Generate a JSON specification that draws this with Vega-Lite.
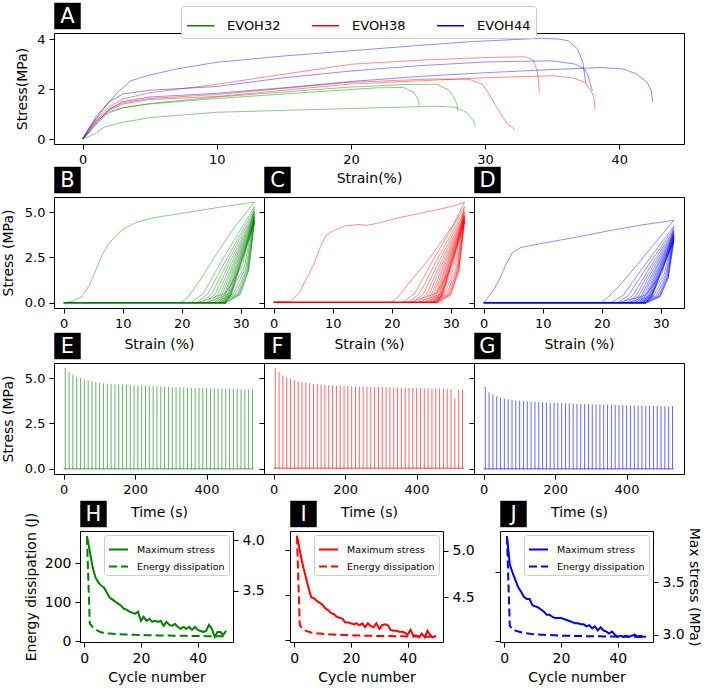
{
"$schema": "https://vega.github.io/schema/vega-lite/v6.json",
"padding": {"left": 0, "top": 2, "right": 0, "bottom": 0},
"config": {
 "font": "DejaVu Sans",
 "view": {"stroke": "black", "strokeWidth": 1},
 "axis": {"grid": false, "domain": false, "tickColor": "black", "tickSize": 5, "tickWidth": 1, "labelColor": "black", "titleColor": "black", "labelFontSize": 13, "titleFontSize": 14, "titleFontWeight": "normal", "labelPadding": 4, "titlePadding": 5, "labelFont": "DejaVu Sans", "titleFont": "DejaVu Sans"},
 "legend": {"labelFont": "DejaVu Sans", "labelColor": "black"}
},
"datasets": {
 "a": [
  {"g":"EVOH32","c":"g1","x":0,"y":0},{"g":"EVOH32","c":"g1","x":0.5,"y":0.3},{"g":"EVOH32","c":"g1","x":1,"y":0.7},{"g":"EVOH32","c":"g1","x":2,"y":1.1},{"g":"EVOH32","c":"g1","x":3,"y":1.25},{"g":"EVOH32","c":"g1","x":5,"y":1.4},{"g":"EVOH32","c":"g1","x":10,"y":1.62},{"g":"EVOH32","c":"g1","x":20,"y":1.98},{"g":"EVOH32","c":"g1","x":22,"y":2.05},{"g":"EVOH32","c":"g1","x":23.9,"y":2.06},{"g":"EVOH32","c":"g1","x":24.7,"y":1.86},{"g":"EVOH32","c":"g1","x":25,"y":1.6},{"g":"EVOH32","c":"g1","x":25.1,"y":1.33},
  {"g":"EVOH32","c":"g2","x":0,"y":0},{"g":"EVOH32","c":"g2","x":0.5,"y":0.25},{"g":"EVOH32","c":"g2","x":1,"y":0.6},{"g":"EVOH32","c":"g2","x":2,"y":1.05},{"g":"EVOH32","c":"g2","x":3,"y":1.25},{"g":"EVOH32","c":"g2","x":5,"y":1.42},{"g":"EVOH32","c":"g2","x":10,"y":1.68},{"g":"EVOH32","c":"g2","x":20,"y":2.08},{"g":"EVOH32","c":"g2","x":24,"y":2.18},{"g":"EVOH32","c":"g2","x":26.4,"y":2.19},{"g":"EVOH32","c":"g2","x":27.3,"y":1.95},{"g":"EVOH32","c":"g2","x":27.6,"y":1.73},{"g":"EVOH32","c":"g2","x":27.9,"y":1.4},{"g":"EVOH32","c":"g2","x":28,"y":1.1},
  {"g":"EVOH32","c":"g3","x":0,"y":0},{"g":"EVOH32","c":"g3","x":0.9,"y":0.2},{"g":"EVOH32","c":"g3","x":1.6,"y":0.47},{"g":"EVOH32","c":"g3","x":2.9,"y":0.66},{"g":"EVOH32","c":"g3","x":5.1,"y":0.86},{"g":"EVOH32","c":"g3","x":10,"y":1.07},{"g":"EVOH32","c":"g3","x":20,"y":1.22},{"g":"EVOH32","c":"g3","x":26.4,"y":1.31},{"g":"EVOH32","c":"g3","x":27.8,"y":1.27},{"g":"EVOH32","c":"g3","x":28.6,"y":1.07},{"g":"EVOH32","c":"g3","x":29.1,"y":0.75},{"g":"EVOH32","c":"g3","x":29.3,"y":0.5},
  {"g":"EVOH38","c":"r1","x":0,"y":0},{"g":"EVOH38","c":"r1","x":0.5,"y":0.4},{"g":"EVOH38","c":"r1","x":1,"y":0.8},{"g":"EVOH38","c":"r1","x":2,"y":1.3},{"g":"EVOH38","c":"r1","x":3,"y":1.6},{"g":"EVOH38","c":"r1","x":5,"y":1.85},{"g":"EVOH38","c":"r1","x":10,"y":2.19},{"g":"EVOH38","c":"r1","x":20,"y":2.99},{"g":"EVOH38","c":"r1","x":25,"y":3.15},{"g":"EVOH38","c":"r1","x":30,"y":3.26},{"g":"EVOH38","c":"r1","x":33,"y":3.29},{"g":"EVOH38","c":"r1","x":33.6,"y":3.15},{"g":"EVOH38","c":"r1","x":33.9,"y":2.7},{"g":"EVOH38","c":"r1","x":34,"y":2.2},{"g":"EVOH38","c":"r1","x":34.05,"y":1.86},
  {"g":"EVOH38","c":"r2","x":0,"y":0},{"g":"EVOH38","c":"r2","x":0.5,"y":0.35},{"g":"EVOH38","c":"r2","x":1,"y":0.7},{"g":"EVOH38","c":"r2","x":2,"y":1.15},{"g":"EVOH38","c":"r2","x":3,"y":1.4},{"g":"EVOH38","c":"r2","x":5,"y":1.58},{"g":"EVOH38","c":"r2","x":10,"y":1.7},{"g":"EVOH38","c":"r2","x":20,"y":2.2},{"g":"EVOH38","c":"r2","x":30,"y":2.45},{"g":"EVOH38","c":"r2","x":35,"y":2.53},{"g":"EVOH38","c":"r2","x":36.5,"y":2.45},{"g":"EVOH38","c":"r2","x":37.5,"y":2.26},{"g":"EVOH38","c":"r2","x":38.1,"y":1.73},{"g":"EVOH38","c":"r2","x":38.2,"y":1.2},
  {"g":"EVOH38","c":"r3","x":0,"y":0},{"g":"EVOH38","c":"r3","x":0.5,"y":0.4},{"g":"EVOH38","c":"r3","x":1,"y":0.75},{"g":"EVOH38","c":"r3","x":2,"y":1.2},{"g":"EVOH38","c":"r3","x":3,"y":1.45},{"g":"EVOH38","c":"r3","x":5,"y":1.62},{"g":"EVOH38","c":"r3","x":10,"y":1.78},{"g":"EVOH38","c":"r3","x":20,"y":2.27},{"g":"EVOH38","c":"r3","x":26,"y":2.4},{"g":"EVOH38","c":"r3","x":28.8,"y":2.39},{"g":"EVOH38","c":"r3","x":29.8,"y":2.19},{"g":"EVOH38","c":"r3","x":30.3,"y":1.8},{"g":"EVOH38","c":"r3","x":30.8,"y":1.33},{"g":"EVOH38","c":"r3","x":31.3,"y":0.9},{"g":"EVOH38","c":"r3","x":31.6,"y":0.66},{"g":"EVOH38","c":"r3","x":32.2,"y":0.38},
  {"g":"EVOH44","c":"b1","x":0,"y":0},{"g":"EVOH44","c":"b1","x":0.5,"y":0.45},{"g":"EVOH44","c":"b1","x":1.36,"y":1.07},{"g":"EVOH44","c":"b1","x":2,"y":1.5},{"g":"EVOH44","c":"b1","x":2.6,"y":1.86},{"g":"EVOH44","c":"b1","x":3.6,"y":2.33},{"g":"EVOH44","c":"b1","x":4.8,"y":2.53},{"g":"EVOH44","c":"b1","x":7,"y":2.8},{"g":"EVOH44","c":"b1","x":10,"y":3.07},{"g":"EVOH44","c":"b1","x":15,"y":3.32},{"g":"EVOH44","c":"b1","x":20,"y":3.53},{"g":"EVOH44","c":"b1","x":25,"y":3.74},{"g":"EVOH44","c":"b1","x":28.8,"y":3.89},{"g":"EVOH44","c":"b1","x":34.2,"y":4.03},{"g":"EVOH44","c":"b1","x":35.5,"y":4.0},{"g":"EVOH44","c":"b1","x":36.2,"y":3.93},{"g":"EVOH44","c":"b1","x":36.9,"y":3.6},{"g":"EVOH44","c":"b1","x":37.3,"y":3.06},{"g":"EVOH44","c":"b1","x":37.5,"y":2.26},
  {"g":"EVOH44","c":"b2","x":0,"y":0},{"g":"EVOH44","c":"b2","x":0.5,"y":0.45},{"g":"EVOH44","c":"b2","x":1,"y":0.9},{"g":"EVOH44","c":"b2","x":2,"y":1.5},{"g":"EVOH44","c":"b2","x":3,"y":1.8},{"g":"EVOH44","c":"b2","x":5,"y":1.95},{"g":"EVOH44","c":"b2","x":10,"y":2.1},{"g":"EVOH44","c":"b2","x":15,"y":2.45},{"g":"EVOH44","c":"b2","x":20,"y":2.72},{"g":"EVOH44","c":"b2","x":25,"y":2.93},{"g":"EVOH44","c":"b2","x":30,"y":3.08},{"g":"EVOH44","c":"b2","x":35,"y":3.13},{"g":"EVOH44","c":"b2","x":36.7,"y":3.0},{"g":"EVOH44","c":"b2","x":37.4,"y":2.8},{"g":"EVOH44","c":"b2","x":37.7,"y":2.5},{"g":"EVOH44","c":"b2","x":38,"y":1.93},
  {"g":"EVOH44","c":"b3","x":0,"y":0},{"g":"EVOH44","c":"b3","x":0.5,"y":0.3},{"g":"EVOH44","c":"b3","x":1,"y":0.6},{"g":"EVOH44","c":"b3","x":2,"y":1.2},{"g":"EVOH44","c":"b3","x":3,"y":1.5},{"g":"EVOH44","c":"b3","x":5,"y":1.68},{"g":"EVOH44","c":"b3","x":10,"y":1.83},{"g":"EVOH44","c":"b3","x":15,"y":2.05},{"g":"EVOH44","c":"b3","x":20,"y":2.3},{"g":"EVOH44","c":"b3","x":25,"y":2.5},{"g":"EVOH44","c":"b3","x":30,"y":2.65},{"g":"EVOH44","c":"b3","x":35,"y":2.78},{"g":"EVOH44","c":"b3","x":38.7,"y":2.86},{"g":"EVOH44","c":"b3","x":40.3,"y":2.8},{"g":"EVOH44","c":"b3","x":41.3,"y":2.6},{"g":"EVOH44","c":"b3","x":42.1,"y":2.26},{"g":"EVOH44","c":"b3","x":42.4,"y":1.9},{"g":"EVOH44","c":"b3","x":42.5,"y":1.49}
 ],
 "lb": [
  {"c":0,"x":0,"y":0},{"c":0,"x":1.5,"y":0.1},{"c":0,"x":2.96,"y":0.31},{"c":0,"x":4.36,"y":0.95},{"c":0,"x":5.75,"y":2.04},{"c":0,"x":6.6,"y":2.68},{"c":0,"x":7.4,"y":3.14},{"c":0,"x":8.3,"y":3.5},{"c":0,"x":9.1,"y":3.78},{"c":0,"x":10,"y":4.05},{"c":0,"x":11.3,"y":4.27},{"c":0,"x":12.5,"y":4.45},{"c":0,"x":15.3,"y":4.69},{"c":0,"x":20,"y":4.93},{"c":0,"x":25.9,"y":5.24},{"c":0,"x":32.3,"y":5.55},
  {"c":100,"x":19.8,"y":0},{"c":100,"x":21,"y":0.3},{"c":100,"x":23,"y":1.2},{"c":100,"x":26,"y":2.75},{"c":100,"x":29,"y":4.2},{"c":100,"x":32.3,"y":5.55},
  {"c":1,"x":21.5,"y":0},{"c":1,"x":23.66,"y":0.53},{"c":1,"x":26.9,"y":2.39},{"c":1,"x":32.3,"y":5.3},
  {"c":2,"x":22.5,"y":0},{"c":2,"x":24.46,"y":0.52},{"c":2,"x":27.4,"y":2.32},{"c":2,"x":32.3,"y":5.15},
  {"c":3,"x":23.3,"y":0},{"c":3,"x":25.1,"y":0.51},{"c":3,"x":27.8,"y":2.27},{"c":3,"x":32.3,"y":5.05},
  {"c":4,"x":24.0,"y":0},{"c":4,"x":25.66,"y":0.5},{"c":4,"x":28.15,"y":2.24},{"c":4,"x":32.3,"y":4.97},
  {"c":5,"x":24.6,"y":0},{"c":5,"x":26.14,"y":0.49},{"c":5,"x":28.45,"y":2.21},{"c":5,"x":32.3,"y":4.9},
  {"c":6,"x":25.1,"y":0},{"c":6,"x":26.54,"y":0.48},{"c":6,"x":28.7,"y":2.18},{"c":6,"x":32.3,"y":4.84},
  {"c":7,"x":25.5,"y":0},{"c":7,"x":26.86,"y":0.48},{"c":7,"x":28.9,"y":2.15},{"c":7,"x":32.3,"y":4.78},
  {"c":8,"x":25.9,"y":0},{"c":8,"x":27.18,"y":0.47},{"c":8,"x":29.1,"y":2.13},{"c":8,"x":32.3,"y":4.73},
  {"c":9,"x":26.2,"y":0},{"c":9,"x":27.42,"y":0.47},{"c":9,"x":29.25,"y":2.11},{"c":9,"x":32.3,"y":4.68},
  {"c":10,"x":26.5,"y":0},{"c":10,"x":27.66,"y":0.46},{"c":10,"x":29.4,"y":2.08},{"c":10,"x":32.3,"y":4.63},
  {"c":11,"x":26.7,"y":0},{"c":11,"x":27.82,"y":0.46},{"c":11,"x":29.5,"y":2.06},{"c":11,"x":32.3,"y":4.58},
  {"c":12,"x":26.9,"y":0},{"c":12,"x":27.98,"y":0.45},{"c":12,"x":29.6,"y":2.04},{"c":12,"x":32.3,"y":4.54},
  {"c":13,"x":27.1,"y":0},{"c":13,"x":28.14,"y":0.45},{"c":13,"x":29.7,"y":2.03},{"c":13,"x":32.3,"y":4.5},
  {"c":14,"x":27.2,"y":0},{"c":14,"x":28.22,"y":0.45},{"c":14,"x":29.75,"y":2.01},{"c":14,"x":32.3,"y":4.46},
  {"c":15,"x":27.3,"y":0},{"c":15,"x":28.3,"y":0.44},{"c":15,"x":29.8,"y":1.99},{"c":15,"x":32.3,"y":4.42},
  {"c":16,"x":27.4,"y":0},{"c":16,"x":28.38,"y":0.44},{"c":16,"x":29.85,"y":1.97},{"c":16,"x":32.3,"y":4.38},
  {"c":101,"x":22.5,"y":0},{"c":101,"x":27.4,"y":0.53},{"c":101,"x":30.34,"y":2.12},{"c":101,"x":32.3,"y":5.3},
  {"c":103,"x":24.0,"y":0},{"c":103,"x":28.15,"y":0.51},{"c":103,"x":30.64,"y":2.02},{"c":103,"x":32.3,"y":5.05},
  {"c":105,"x":25.1,"y":0},{"c":105,"x":28.7,"y":0.49},{"c":105,"x":30.86,"y":1.96},{"c":105,"x":32.3,"y":4.9},
  {"c":107,"x":25.9,"y":0},{"c":107,"x":29.1,"y":0.48},{"c":107,"x":31.02,"y":1.91},{"c":107,"x":32.3,"y":4.78},
  {"c":109,"x":26.5,"y":0},{"c":109,"x":29.4,"y":0.47},{"c":109,"x":31.14,"y":1.87},{"c":109,"x":32.3,"y":4.68},
  {"c":111,"x":26.9,"y":0},{"c":111,"x":29.6,"y":0.46},{"c":111,"x":31.22,"y":1.83},{"c":111,"x":32.3,"y":4.58},
  {"c":113,"x":27.2,"y":0},{"c":113,"x":29.75,"y":0.45},{"c":113,"x":31.28,"y":1.8},{"c":113,"x":32.3,"y":4.5},
  {"c":115,"x":27.4,"y":0},{"c":115,"x":29.85,"y":0.44},{"c":115,"x":31.32,"y":1.77},{"c":115,"x":32.3,"y":4.42}
 ],
 "lc": [
  {"c":0,"x":0,"y":0.07},{"c":0,"x":2.8,"y":0.07},{"c":0,"x":4.4,"y":0.58},{"c":0,"x":5.5,"y":1.3},{"c":0,"x":6.7,"y":2.04},{"c":0,"x":8.2,"y":3.3},{"c":0,"x":9,"y":3.75},{"c":0,"x":10.1,"y":3.96},{"c":0,"x":12,"y":4.23},{"c":0,"x":14.3,"y":4.32},{"c":0,"x":15.8,"y":4.27},{"c":0,"x":18.1,"y":4.42},{"c":0,"x":21.2,"y":4.69},{"c":0,"x":26.5,"y":5.05},{"c":0,"x":30.4,"y":5.33},{"c":0,"x":32.3,"y":5.55},
  {"c":100,"x":19.7,"y":0},{"c":100,"x":21,"y":0.3},{"c":100,"x":22.7,"y":1.0},{"c":100,"x":26.5,"y":2.5},{"c":100,"x":30.4,"y":4.3},{"c":100,"x":32.3,"y":5.55},
  {"c":1,"x":21.8,"y":0},{"c":1,"x":23.9,"y":0.53},{"c":1,"x":27.05,"y":2.39},{"c":1,"x":32.3,"y":5.3},
  {"c":2,"x":22.8,"y":0},{"c":2,"x":24.7,"y":0.51},{"c":2,"x":27.55,"y":2.31},{"c":2,"x":32.3,"y":5.13},
  {"c":3,"x":23.6,"y":0},{"c":3,"x":25.34,"y":0.5},{"c":3,"x":27.95,"y":2.26},{"c":3,"x":32.3,"y":5.02},
  {"c":4,"x":24.3,"y":0},{"c":4,"x":25.9,"y":0.49},{"c":4,"x":28.3,"y":2.22},{"c":4,"x":32.3,"y":4.93},
  {"c":5,"x":24.9,"y":0},{"c":5,"x":26.38,"y":0.49},{"c":5,"x":28.6,"y":2.19},{"c":5,"x":32.3,"y":4.86},
  {"c":6,"x":25.4,"y":0},{"c":6,"x":26.78,"y":0.48},{"c":6,"x":28.85,"y":2.16},{"c":6,"x":32.3,"y":4.8},
  {"c":7,"x":25.8,"y":0},{"c":7,"x":27.1,"y":0.48},{"c":7,"x":29.05,"y":2.14},{"c":7,"x":32.3,"y":4.76},
  {"c":8,"x":26.2,"y":0},{"c":8,"x":27.42,"y":0.47},{"c":8,"x":29.25,"y":2.12},{"c":8,"x":32.3,"y":4.72},
  {"c":9,"x":26.5,"y":0},{"c":9,"x":27.66,"y":0.47},{"c":9,"x":29.4,"y":2.11},{"c":9,"x":32.3,"y":4.68},
  {"c":10,"x":26.8,"y":0},{"c":10,"x":27.9,"y":0.46},{"c":10,"x":29.55,"y":2.09},{"c":10,"x":32.3,"y":4.64},
  {"c":11,"x":27.0,"y":0},{"c":11,"x":28.06,"y":0.46},{"c":11,"x":29.65,"y":2.07},{"c":11,"x":32.3,"y":4.6},
  {"c":12,"x":27.2,"y":0},{"c":12,"x":28.22,"y":0.46},{"c":12,"x":29.75,"y":2.05},{"c":12,"x":32.3,"y":4.56},
  {"c":13,"x":27.4,"y":0},{"c":13,"x":28.38,"y":0.45},{"c":13,"x":29.85,"y":2.03},{"c":13,"x":32.3,"y":4.52},
  {"c":14,"x":27.5,"y":0},{"c":14,"x":28.46,"y":0.45},{"c":14,"x":29.9,"y":2.02},{"c":14,"x":32.3,"y":4.48},
  {"c":15,"x":27.6,"y":0},{"c":15,"x":28.54,"y":0.44},{"c":15,"x":29.95,"y":2.0},{"c":15,"x":32.3,"y":4.44},
  {"c":16,"x":27.7,"y":0},{"c":16,"x":28.62,"y":0.44},{"c":16,"x":30.0,"y":1.98},{"c":16,"x":32.3,"y":4.4},
  {"c":101,"x":22.8,"y":0},{"c":101,"x":27.55,"y":0.53},{"c":101,"x":30.4,"y":2.12},{"c":101,"x":32.3,"y":5.3},
  {"c":103,"x":24.3,"y":0},{"c":103,"x":28.3,"y":0.5},{"c":103,"x":30.7,"y":2.01},{"c":103,"x":32.3,"y":5.02},
  {"c":105,"x":25.4,"y":0},{"c":105,"x":28.85,"y":0.49},{"c":105,"x":30.92,"y":1.94},{"c":105,"x":32.3,"y":4.86},
  {"c":107,"x":26.2,"y":0},{"c":107,"x":29.25,"y":0.48},{"c":107,"x":31.08,"y":1.9},{"c":107,"x":32.3,"y":4.76},
  {"c":109,"x":26.8,"y":0},{"c":109,"x":29.55,"y":0.47},{"c":109,"x":31.2,"y":1.87},{"c":109,"x":32.3,"y":4.68},
  {"c":111,"x":27.2,"y":0},{"c":111,"x":29.75,"y":0.46},{"c":111,"x":31.28,"y":1.84},{"c":111,"x":32.3,"y":4.6},
  {"c":113,"x":27.5,"y":0},{"c":113,"x":29.9,"y":0.45},{"c":113,"x":31.34,"y":1.81},{"c":113,"x":32.3,"y":4.52},
  {"c":115,"x":27.7,"y":0},{"c":115,"x":30.0,"y":0.44},{"c":115,"x":31.38,"y":1.78},{"c":115,"x":32.3,"y":4.44}
 ],
 "ld": [
  {"c":0,"x":0,"y":0},{"c":0,"x":0.96,"y":0.4},{"c":0,"x":1.8,"y":0.77},{"c":0,"x":2.7,"y":1.31},{"c":0,"x":3.8,"y":2.13},{"c":0,"x":4.9,"y":2.77},{"c":0,"x":6.3,"y":3.05},{"c":0,"x":9.7,"y":3.27},{"c":0,"x":15.4,"y":3.6},{"c":0,"x":21,"y":3.96},{"c":0,"x":26.7,"y":4.29},{"c":0,"x":32.2,"y":4.54},
  {"c":100,"x":19.9,"y":0},{"c":100,"x":21,"y":0.3},{"c":100,"x":23,"y":0.95},{"c":100,"x":26,"y":2.1},{"c":100,"x":29,"y":3.3},{"c":100,"x":32.2,"y":4.54},
  {"c":1,"x":21.5,"y":0},{"c":1,"x":23.64,"y":0.42},{"c":1,"x":26.85,"y":1.9},{"c":1,"x":32.2,"y":4.22},
  {"c":2,"x":22.6,"y":0},{"c":2,"x":24.52,"y":0.41},{"c":2,"x":27.4,"y":1.85},{"c":2,"x":32.2,"y":4.1},
  {"c":3,"x":23.5,"y":0},{"c":3,"x":25.24,"y":0.4},{"c":3,"x":27.85,"y":1.8},{"c":3,"x":32.2,"y":4.0},
  {"c":4,"x":24.2,"y":0},{"c":4,"x":25.8,"y":0.39},{"c":4,"x":28.2,"y":1.77},{"c":4,"x":32.2,"y":3.93},
  {"c":5,"x":24.8,"y":0},{"c":5,"x":26.28,"y":0.39},{"c":5,"x":28.5,"y":1.74},{"c":5,"x":32.2,"y":3.86},
  {"c":6,"x":25.3,"y":0},{"c":6,"x":26.68,"y":0.38},{"c":6,"x":28.75,"y":1.71},{"c":6,"x":32.2,"y":3.8},
  {"c":7,"x":25.7,"y":0},{"c":7,"x":27.0,"y":0.38},{"c":7,"x":28.95,"y":1.69},{"c":7,"x":32.2,"y":3.76},
  {"c":8,"x":26.1,"y":0},{"c":8,"x":27.32,"y":0.37},{"c":8,"x":29.15,"y":1.67},{"c":8,"x":32.2,"y":3.72},
  {"c":9,"x":26.4,"y":0},{"c":9,"x":27.56,"y":0.37},{"c":9,"x":29.3,"y":1.66},{"c":9,"x":32.2,"y":3.68},
  {"c":10,"x":26.7,"y":0},{"c":10,"x":27.8,"y":0.36},{"c":10,"x":29.45,"y":1.64},{"c":10,"x":32.2,"y":3.64},
  {"c":11,"x":26.9,"y":0},{"c":11,"x":27.96,"y":0.36},{"c":11,"x":29.55,"y":1.62},{"c":11,"x":32.2,"y":3.6},
  {"c":12,"x":27.1,"y":0},{"c":12,"x":28.12,"y":0.36},{"c":12,"x":29.65,"y":1.6},{"c":12,"x":32.2,"y":3.56},
  {"c":13,"x":27.3,"y":0},{"c":13,"x":28.28,"y":0.35},{"c":13,"x":29.75,"y":1.58},{"c":13,"x":32.2,"y":3.52},
  {"c":14,"x":27.4,"y":0},{"c":14,"x":28.36,"y":0.35},{"c":14,"x":29.8,"y":1.57},{"c":14,"x":32.2,"y":3.48},
  {"c":15,"x":27.5,"y":0},{"c":15,"x":28.44,"y":0.35},{"c":15,"x":29.85,"y":1.55},{"c":15,"x":32.2,"y":3.45},
  {"c":16,"x":27.6,"y":0},{"c":16,"x":28.52,"y":0.34},{"c":16,"x":29.9,"y":1.54},{"c":16,"x":32.2,"y":3.42},
  {"c":101,"x":22.6,"y":0},{"c":101,"x":27.4,"y":0.42},{"c":101,"x":30.28,"y":1.69},{"c":101,"x":32.2,"y":4.22},
  {"c":103,"x":24.2,"y":0},{"c":103,"x":28.2,"y":0.4},{"c":103,"x":30.6,"y":1.6},{"c":103,"x":32.2,"y":4.0},
  {"c":105,"x":25.3,"y":0},{"c":105,"x":28.75,"y":0.39},{"c":105,"x":30.82,"y":1.54},{"c":105,"x":32.2,"y":3.86},
  {"c":107,"x":26.1,"y":0},{"c":107,"x":29.15,"y":0.38},{"c":107,"x":30.98,"y":1.5},{"c":107,"x":32.2,"y":3.76},
  {"c":109,"x":26.7,"y":0},{"c":109,"x":29.45,"y":0.37},{"c":109,"x":31.1,"y":1.47},{"c":109,"x":32.2,"y":3.68},
  {"c":111,"x":27.1,"y":0},{"c":111,"x":29.65,"y":0.36},{"c":111,"x":31.18,"y":1.44},{"c":111,"x":32.2,"y":3.6},
  {"c":113,"x":27.4,"y":0},{"c":113,"x":29.8,"y":0.35},{"c":113,"x":31.24,"y":1.41},{"c":113,"x":32.2,"y":3.52},
  {"c":115,"x":27.6,"y":0},{"c":115,"x":29.9,"y":0.35},{"c":115,"x":31.28,"y":1.38},{"c":115,"x":32.2,"y":3.45}
 ],
 "te": [
  {"t":4.5,"s":5.57},{"t":15.2,"s":5.33},{"t":25.9,"s":5.18},{"t":36.6,"s":5.07},{"t":47.3,"s":5.0},{"t":58,"s":4.93},{"t":68.7,"s":4.87},{"t":79.4,"s":4.83},{"t":90.1,"s":4.78},{"t":100.8,"s":4.74},
  {"t":111.5,"s":4.71},{"t":122.2,"s":4.69},{"t":132.9,"s":4.67},{"t":143.6,"s":4.66},{"t":154.3,"s":4.65},{"t":165,"s":4.64},{"t":175.7,"s":4.62},{"t":186.4,"s":4.61},{"t":197.1,"s":4.6},{"t":207.8,"s":4.59},
  {"t":218.5,"s":4.58},{"t":229.2,"s":4.57},{"t":239.9,"s":4.56},{"t":250.6,"s":4.55},{"t":261.3,"s":4.54},{"t":272,"s":4.53},{"t":282.7,"s":4.52},{"t":293.4,"s":4.51},{"t":304.1,"s":4.5},{"t":314.8,"s":4.5},
  {"t":325.5,"s":4.49},{"t":336.2,"s":4.48},{"t":346.9,"s":4.48},{"t":357.6,"s":4.47},{"t":368.3,"s":4.46},{"t":379,"s":4.46},{"t":389.7,"s":4.45},{"t":400.4,"s":4.45},{"t":411.1,"s":4.44},{"t":421.8,"s":4.43},
  {"t":432.5,"s":4.43},{"t":443.2,"s":4.42},{"t":453.9,"s":4.41},{"t":464.6,"s":4.41},{"t":475.3,"s":4.4},{"t":486,"s":4.39},{"t":496.7,"s":4.38},{"t":507.4,"s":4.38},{"t":518.1,"s":4.37},{"t":528.8,"s":4.36}
 ],
 "tf": [
  {"t":4.5,"s":5.57},{"t":15.2,"s":5.32},{"t":25.9,"s":5.15},{"t":36.6,"s":5.04},{"t":47.3,"s":4.95},{"t":58,"s":4.88},{"t":68.7,"s":4.82},{"t":79.4,"s":4.78},{"t":90.1,"s":4.74},{"t":100.8,"s":4.71},
  {"t":111.5,"s":4.68},{"t":122.2,"s":4.66},{"t":132.9,"s":4.64},{"t":143.6,"s":4.62},{"t":154.3,"s":4.61},{"t":165,"s":4.6},{"t":175.7,"s":4.59},{"t":186.4,"s":4.58},{"t":197.1,"s":4.57},{"t":207.8,"s":4.56},
  {"t":218.5,"s":4.55},{"t":229.2,"s":4.54},{"t":239.9,"s":4.53},{"t":250.6,"s":4.53},{"t":261.3,"s":4.52},{"t":272,"s":4.51},{"t":282.7,"s":4.51},{"t":293.4,"s":4.5},{"t":304.1,"s":4.5},{"t":314.8,"s":4.49},
  {"t":325.5,"s":4.49},{"t":336.2,"s":4.48},{"t":346.9,"s":4.48},{"t":357.6,"s":4.47},{"t":368.3,"s":4.47},{"t":379,"s":4.46},{"t":389.7,"s":4.46},{"t":400.4,"s":4.45},{"t":411.1,"s":4.45},{"t":421.8,"s":4.44},
  {"t":432.5,"s":4.44},{"t":443.2,"s":4.43},{"t":453.9,"s":4.43},{"t":464.6,"s":4.42},{"t":475.3,"s":4.42},{"t":486,"s":4.41},{"t":496.7,"s":4.4},{"t":507.4,"s":3.88},{"t":518.1,"s":4.36},{"t":528.8,"s":4.37}
 ],
 "tg": [
  {"t":4.5,"s":4.52},{"t":15.2,"s":4.22},{"t":25.9,"s":4.1},{"t":36.6,"s":4.0},{"t":47.3,"s":3.93},{"t":58,"s":3.87},{"t":68.7,"s":3.83},{"t":79.4,"s":3.8},{"t":90.1,"s":3.77},{"t":100.8,"s":3.75},
  {"t":111.5,"s":3.73},{"t":122.2,"s":3.71},{"t":132.9,"s":3.7},{"t":143.6,"s":3.69},{"t":154.3,"s":3.68},{"t":165,"s":3.67},{"t":175.7,"s":3.66},{"t":186.4,"s":3.65},{"t":197.1,"s":3.64},{"t":207.8,"s":3.63},
  {"t":218.5,"s":3.62},{"t":229.2,"s":3.61},{"t":239.9,"s":3.6},{"t":250.6,"s":3.59},{"t":261.3,"s":3.58},{"t":272,"s":3.57},{"t":282.7,"s":3.57},{"t":293.4,"s":3.56},{"t":304.1,"s":3.55},{"t":314.8,"s":3.55},
  {"t":325.5,"s":3.54},{"t":336.2,"s":3.53},{"t":346.9,"s":3.53},{"t":357.6,"s":3.52},{"t":368.3,"s":3.52},{"t":379,"s":3.51},{"t":389.7,"s":3.51},{"t":400.4,"s":3.5},{"t":411.1,"s":3.5},{"t":421.8,"s":3.49},
  {"t":432.5,"s":3.48},{"t":443.2,"s":3.48},{"t":453.9,"s":3.47},{"t":464.6,"s":3.47},{"t":475.3,"s":3.46},{"t":486,"s":3.46},{"t":496.7,"s":3.45},{"t":507.4,"s":3.45},{"t":518.1,"s":3.44},{"t":528.8,"s":3.44}
 ],
 "ch": [
  {"n":1,"m":4.04,"e":267},{"n":2,"m":3.89,"e":45},{"n":3,"m":3.73,"e":36},{"n":4,"m":3.63,"e":30},{"n":5,"m":3.58,"e":26},{"n":6,"m":3.55,"e":23},{"n":7,"m":3.53,"e":21},{"n":8,"m":3.48,"e":20},{"n":9,"m":3.43,"e":19.5},{"n":10,"m":3.41,"e":19},
  {"n":11,"m":3.39,"e":18.5},{"n":12,"m":3.37,"e":18},{"n":13,"m":3.35,"e":17.7},{"n":14,"m":3.32,"e":17.4},{"n":15,"m":3.31,"e":17.1},{"n":16,"m":3.29,"e":16.8},{"n":17,"m":3.28,"e":16.5},{"n":18,"m":3.27,"e":16.3},{"n":19,"m":3.29,"e":16.1},{"n":20,"m":3.2,"e":15.9},
  {"n":21,"m":3.24,"e":15.7},{"n":22,"m":3.2,"e":15.5},{"n":23,"m":3.22,"e":15.3},{"n":24,"m":3.19,"e":15.2},{"n":25,"m":3.2,"e":15.0},{"n":26,"m":3.19,"e":14.9},{"n":27,"m":3.2,"e":14.8},{"n":28,"m":3.15,"e":14.6},{"n":29,"m":3.19,"e":14.5},{"n":30,"m":3.16,"e":14.4},
  {"n":31,"m":3.15,"e":14.3},{"n":32,"m":3.17,"e":14.2},{"n":33,"m":3.14,"e":14.0},{"n":34,"m":3.12,"e":13.9},{"n":35,"m":3.14,"e":13.8},{"n":36,"m":3.12,"e":13.7},{"n":37,"m":3.14,"e":13.6},{"n":38,"m":3.11,"e":13.5},{"n":39,"m":3.14,"e":13.4},{"n":40,"m":3.11,"e":13.3},
  {"n":41,"m":3.1,"e":13.2},{"n":42,"m":3.09,"e":13.1},{"n":43,"m":3.1,"e":13.0},{"n":44,"m":3.16,"e":12.9},{"n":45,"m":3.12,"e":12.8},{"n":46,"m":3.04,"e":12.7},{"n":47,"m":3.09,"e":12.6},{"n":48,"m":3.09,"e":12.5},{"n":49,"m":3.06,"e":12.4},{"n":50,"m":3.1,"e":12.3}
 ],
 "ci": [
  {"n":1,"m":5.16,"e":229},{"n":2,"m":5.0,"e":33},{"n":3,"m":4.85,"e":25},{"n":4,"m":4.73,"e":21},{"n":5,"m":4.61,"e":19},{"n":6,"m":4.5,"e":17},{"n":7,"m":4.49,"e":16},{"n":8,"m":4.46,"e":15},{"n":9,"m":4.44,"e":14.5},{"n":10,"m":4.42,"e":14},
  {"n":11,"m":4.38,"e":13.6},{"n":12,"m":4.36,"e":13.2},{"n":13,"m":4.33,"e":12.8},{"n":14,"m":4.32,"e":12.5},{"n":15,"m":4.29,"e":12.2},{"n":16,"m":4.28,"e":11.9},{"n":17,"m":4.27,"e":11.6},{"n":18,"m":4.23,"e":11.3},{"n":19,"m":4.23,"e":11.0},{"n":20,"m":4.22,"e":10.8},
  {"n":21,"m":4.21,"e":10.6},{"n":22,"m":4.22,"e":10.4},{"n":23,"m":4.2,"e":10.2},{"n":24,"m":4.22,"e":10.0},{"n":25,"m":4.18,"e":9.9},{"n":26,"m":4.22,"e":9.8},{"n":27,"m":4.19,"e":9.7},{"n":28,"m":4.18,"e":9.6},{"n":29,"m":4.22,"e":9.5},{"n":30,"m":4.16,"e":9.4},
  {"n":31,"m":4.2,"e":9.3},{"n":32,"m":4.21,"e":9.2},{"n":33,"m":4.2,"e":9.1},{"n":34,"m":4.15,"e":9.0},{"n":35,"m":4.14,"e":8.9},{"n":36,"m":4.14,"e":8.8},{"n":37,"m":4.13,"e":8.7},{"n":38,"m":4.13,"e":8.6},{"n":39,"m":4.12,"e":8.5},{"n":40,"m":4.1,"e":8.4},
  {"n":41,"m":4.15,"e":8.3},{"n":42,"m":4.09,"e":8.2},{"n":43,"m":4.09,"e":8.1},{"n":44,"m":4.07,"e":8.0},{"n":45,"m":4.11,"e":7.9},{"n":46,"m":4.07,"e":7.8},{"n":47,"m":4.14,"e":7.7},{"n":48,"m":4.09,"e":7.6},{"n":49,"m":4.07,"e":7.5},{"n":50,"m":4.09,"e":7.4}
 ],
 "cj": [
  {"n":1,"m":3.94,"e":152},{"n":2,"m":3.67,"e":22},{"n":3,"m":3.59,"e":17},{"n":4,"m":3.52,"e":15},{"n":5,"m":3.45,"e":13.7},{"n":6,"m":3.41,"e":12.6},{"n":7,"m":3.36,"e":11.8},{"n":8,"m":3.34,"e":11.2},{"n":9,"m":3.34,"e":10.6},{"n":10,"m":3.28,"e":10.1},
  {"n":11,"m":3.27,"e":9.8},{"n":12,"m":3.26,"e":9.5},{"n":13,"m":3.24,"e":9.2},{"n":14,"m":3.22,"e":9.0},{"n":15,"m":3.19,"e":8.8},{"n":16,"m":3.19,"e":8.6},{"n":17,"m":3.17,"e":8.4},{"n":18,"m":3.16,"e":8.2},{"n":19,"m":3.16,"e":8.0},{"n":20,"m":3.16,"e":7.8},
  {"n":21,"m":3.15,"e":7.7},{"n":22,"m":3.14,"e":7.6},{"n":23,"m":3.13,"e":7.5},{"n":24,"m":3.12,"e":7.4},{"n":25,"m":3.11,"e":7.3},{"n":26,"m":3.11,"e":7.3},{"n":27,"m":3.1,"e":7.2},{"n":28,"m":3.1,"e":7.1},{"n":29,"m":3.08,"e":7.0},{"n":30,"m":3.09,"e":7.0},
  {"n":31,"m":3.06,"e":6.9},{"n":32,"m":3.08,"e":6.8},{"n":33,"m":3.04,"e":6.8},{"n":34,"m":3.07,"e":6.7},{"n":35,"m":3.04,"e":6.6},{"n":36,"m":3.03,"e":6.6},{"n":37,"m":3.01,"e":6.5},{"n":38,"m":3.03,"e":6.4},{"n":39,"m":3.0,"e":6.4},{"n":40,"m":2.98,"e":6.3},
  {"n":41,"m":2.99,"e":6.3},{"n":42,"m":2.98,"e":6.2},{"n":43,"m":2.99,"e":6.2},{"n":44,"m":2.98,"e":6.1},{"n":45,"m":2.99,"e":6.1},{"n":46,"m":3.0,"e":6.0},{"n":47,"m":2.98,"e":6.0},{"n":48,"m":2.99,"e":5.9},{"n":49,"m":2.98,"e":5.9},{"n":50,"m":2.98,"e":5.9}
 ]
},
"spacing": -20,
"resolve": {"scale": {"x": "independent", "y": "independent", "color": "independent", "strokeDash": "independent"}, "legend": {"color": "independent", "strokeDash": "independent"}},
"vconcat": [
 {
  "width": 630, "height": 111,
  "layer": [
   {"data": {"name": "a"}, "mark": {"type": "line", "strokeWidth": 1, "opacity": 0.45},
    "encoding": {
     "x": {"field": "x", "type": "quantitative", "scale": {"domain": [-2.135, 44.835], "nice": false}, "axis": {"values": [0,10,20,30,40], "title": "Strain(%)", "titlePadding": 5}},
     "y": {"field": "y", "type": "quantitative", "scale": {"domain": [-0.2, 4.24], "nice": false}, "axis": {"values": [0,2,4], "title": "Stress(MPa)", "titlePadding": 7}},
     "color": {"field": "g", "type": "nominal", "scale": {"domain": ["EVOH32","EVOH38","EVOH44"], "range": ["#008000","#ff0000","#0000ff"]},
       "legend": {"orient": "none", "legendX": 127, "legendY": -27, "direction": "horizontal", "title": null, "symbolType": "stroke", "symbolSize": 729, "symbolStrokeWidth": 1.5, "symbolOpacity": 1, "labelFontSize": 13, "labelOffset": 12, "columnPadding": 28, "padding": 5, "strokeColor": "#cccccc", "cornerRadius": 3, "fillColor": "white"}},
     "detail": {"field": "c"}
    }},
   {"data": {"values": [{"l": "A"}]},
    "encoding": {"x": {"datum": -2.135}, "y": {"datum": 4.24}},
    "layer": [
     {"mark": {"type": "point", "shape": "square", "filled": true, "color": "black", "opacity": 1, "size": 700, "xOffset": 13.5, "yOffset": -17}},
     {"mark": {"type": "text", "color": "white", "fontSize": 21, "font": "DejaVu Sans", "xOffset": 13.5, "yOffset": -16, "align": "center", "baseline": "middle"}, "encoding": {"text": {"field": "l"}}}
    ]}
  ]
 },
 {
  "hconcat": [
   {"width": 210, "height": 111, "layer": [
     {"data": {"name": "lb"}, "mark": {"type": "line", "color": "#008000", "strokeWidth": 0.8, "opacity": 0.55},
      "encoding": {"x": {"field": "x", "type": "quantitative", "scale": {"domain": [-1.615, 33.915], "nice": false}, "axis": {"values": [0,10,20,30], "title": "Strain (%)", "titlePadding": 7}},
                   "y": {"field": "y", "type": "quantitative", "scale": {"domain": [-0.28, 5.83], "nice": false}, "axis": {"values": [0,2.5,5], "format": ".1f", "title": "Stress (MPa)", "titlePadding": 9}},
                   "detail": {"field": "c"}}},
     {"data": {"values": [{}]}, "mark": {"type": "rule", "color": "#008000", "strokeWidth": 1.6}, "encoding": {"x": {"datum": 0}, "x2": {"datum": 27.5}, "y": {"datum": 0}}},
     {"data": {"values": [{"l": "B"}]},
      "encoding": {"x": {"datum": -1.615}, "y": {"datum": 5.83}},
      "layer": [
       {"mark": {"type": "point", "shape": "square", "filled": true, "color": "black", "opacity": 1, "size": 700, "xOffset": 13.5, "yOffset": -17}},
       {"mark": {"type": "text", "color": "white", "fontSize": 21, "font": "DejaVu Sans", "xOffset": 13.5, "yOffset": -16, "align": "center", "baseline": "middle"}, "encoding": {"text": {"field": "l"}}}
      ]}
   ]},
   {"width": 210, "height": 111, "layer": [
     {"data": {"name": "lc"}, "mark": {"type": "line", "color": "#ff0000", "strokeWidth": 0.8, "opacity": 0.55},
      "encoding": {"x": {"field": "x", "type": "quantitative", "scale": {"domain": [-1.615, 33.915], "nice": false}, "axis": {"values": [0,10,20,30], "title": "Strain (%)", "titlePadding": 7}},
                   "y": {"field": "y", "type": "quantitative", "scale": {"domain": [-0.28, 5.83], "nice": false}, "axis": {"values": [0,2.5,5], "labels": false, "title": null}},
                   "detail": {"field": "c"}}},
     {"data": {"values": [{}]}, "mark": {"type": "rule", "color": "#ff0000", "strokeWidth": 1.6}, "encoding": {"x": {"datum": 0}, "x2": {"datum": 27.5}, "y": {"datum": 0.04}}},
     {"data": {"values": [{"l": "C"}]},
      "encoding": {"x": {"datum": -1.615}, "y": {"datum": 5.83}},
      "layer": [
       {"mark": {"type": "point", "shape": "square", "filled": true, "color": "black", "opacity": 1, "size": 700, "xOffset": 13.5, "yOffset": -17}},
       {"mark": {"type": "text", "color": "white", "fontSize": 21, "font": "DejaVu Sans", "xOffset": 13.5, "yOffset": -16, "align": "center", "baseline": "middle"}, "encoding": {"text": {"field": "l"}}}
      ]}
   ]},
   {"width": 210, "height": 111, "layer": [
     {"data": {"name": "ld"}, "mark": {"type": "line", "color": "#0000ff", "strokeWidth": 0.8, "opacity": 0.55},
      "encoding": {"x": {"field": "x", "type": "quantitative", "scale": {"domain": [-1.615, 33.915], "nice": false}, "axis": {"values": [0,10,20,30], "title": "Strain (%)", "titlePadding": 7}},
                   "y": {"field": "y", "type": "quantitative", "scale": {"domain": [-0.28, 5.83], "nice": false}, "axis": {"values": [0,2.5,5], "labels": false, "title": null}},
                   "detail": {"field": "c"}}},
     {"data": {"values": [{}]}, "mark": {"type": "rule", "color": "#0000ff", "strokeWidth": 1.6}, "encoding": {"x": {"datum": 0}, "x2": {"datum": 27.5}, "y": {"datum": 0}}},
     {"data": {"values": [{"l": "D"}]},
      "encoding": {"x": {"datum": -1.615}, "y": {"datum": 5.83}},
      "layer": [
       {"mark": {"type": "point", "shape": "square", "filled": true, "color": "black", "opacity": 1, "size": 700, "xOffset": 13.5, "yOffset": -17}},
       {"mark": {"type": "text", "color": "white", "fontSize": 21, "font": "DejaVu Sans", "xOffset": 13.5, "yOffset": -16, "align": "center", "baseline": "middle"}, "encoding": {"text": {"field": "l"}}}
      ]}
   ]}
  ],
  "spacing": 0, "bounds": "flush",
  "resolve": {"scale": {"x": "independent", "y": "independent"}}
 },
 {
  "hconcat": [
   {"width": 210, "height": 111, "layer": [
     {"data": {"name": "te"}, "mark": {"type": "rule", "color": "#008000", "strokeWidth": 1, "opacity": 0.6},
      "encoding": {"x": {"field": "t", "type": "quantitative", "scale": {"domain": [-27, 561], "nice": false}, "axis": {"values": [0,200,400], "title": "Time (s)", "titlePadding": 9}},
                   "y": {"field": "s", "type": "quantitative", "scale": {"domain": [-0.28, 5.83], "nice": false}, "axis": {"values": [0,2.5,5], "format": ".1f", "title": "Stress (MPa)", "titlePadding": 9}},
                   "y2": {"datum": 0}}},
     {"data": {"values": [{}]}, "mark": {"type": "rule", "color": "#008000", "strokeWidth": 1, "opacity": 0.7}, "encoding": {"x": {"datum": 0}, "x2": {"datum": 532}, "y": {"datum": 0}}},
     {"data": {"values": [{"l": "E"}]},
      "encoding": {"x": {"datum": -27}, "y": {"datum": 5.83}},
      "layer": [
       {"mark": {"type": "point", "shape": "square", "filled": true, "color": "black", "opacity": 1, "size": 700, "xOffset": 13.5, "yOffset": -17}},
       {"mark": {"type": "text", "color": "white", "fontSize": 21, "font": "DejaVu Sans", "xOffset": 13.5, "yOffset": -16, "align": "center", "baseline": "middle"}, "encoding": {"text": {"field": "l"}}}
      ]}
   ]},
   {"width": 210, "height": 111, "layer": [
     {"data": {"name": "tf"}, "mark": {"type": "rule", "color": "#ff0000", "strokeWidth": 1, "opacity": 0.6},
      "encoding": {"x": {"field": "t", "type": "quantitative", "scale": {"domain": [-27, 561], "nice": false}, "axis": {"values": [0,200,400], "title": "Time (s)", "titlePadding": 9}},
                   "y": {"field": "s", "type": "quantitative", "scale": {"domain": [-0.28, 5.83], "nice": false}, "axis": {"values": [0,2.5,5], "labels": false, "title": null}},
                   "y2": {"datum": 0}}},
     {"data": {"values": [{}]}, "mark": {"type": "rule", "color": "#ff0000", "strokeWidth": 1, "opacity": 0.7}, "encoding": {"x": {"datum": 0}, "x2": {"datum": 532}, "y": {"datum": 0.04}}},
     {"data": {"values": [{"l": "F"}]},
      "encoding": {"x": {"datum": -27}, "y": {"datum": 5.83}},
      "layer": [
       {"mark": {"type": "point", "shape": "square", "filled": true, "color": "black", "opacity": 1, "size": 700, "xOffset": 13.5, "yOffset": -17}},
       {"mark": {"type": "text", "color": "white", "fontSize": 21, "font": "DejaVu Sans", "xOffset": 13.5, "yOffset": -16, "align": "center", "baseline": "middle"}, "encoding": {"text": {"field": "l"}}}
      ]}
   ]},
   {"width": 210, "height": 111, "layer": [
     {"data": {"name": "tg"}, "mark": {"type": "rule", "color": "#0000ff", "strokeWidth": 1, "opacity": 0.6},
      "encoding": {"x": {"field": "t", "type": "quantitative", "scale": {"domain": [-27, 561], "nice": false}, "axis": {"values": [0,200,400], "title": "Time (s)", "titlePadding": 9}},
                   "y": {"field": "s", "type": "quantitative", "scale": {"domain": [-0.28, 5.83], "nice": false}, "axis": {"values": [0,2.5,5], "labels": false, "title": null}},
                   "y2": {"datum": 0}}},
     {"data": {"values": [{}]}, "mark": {"type": "rule", "color": "#0000ff", "strokeWidth": 1, "opacity": 0.7}, "encoding": {"x": {"datum": 0}, "x2": {"datum": 532}, "y": {"datum": 0}}},
     {"data": {"values": [{"l": "G"}]},
      "encoding": {"x": {"datum": -27}, "y": {"datum": 5.83}},
      "layer": [
       {"mark": {"type": "point", "shape": "square", "filled": true, "color": "black", "opacity": 1, "size": 700, "xOffset": 13.5, "yOffset": -17}},
       {"mark": {"type": "text", "color": "white", "fontSize": 21, "font": "DejaVu Sans", "xOffset": 13.5, "yOffset": -16, "align": "center", "baseline": "middle"}, "encoding": {"text": {"field": "l"}}}
      ]}
   ]}
  ],
  "spacing": 0, "bounds": "flush",
  "resolve": {"scale": {"x": "independent", "y": "independent"}}
 },
 {
  "hconcat": [
   {"width": 1, "height": 1, "data": {"values": [{}]}, "mark": {"type": "point", "opacity": 0}, "view": {"stroke": null}},
   {
    "hconcat": [
     {"width": 153, "height": 111, "layer": [
       {"data": {"name": "ch"}, "mark": {"type": "line", "color": "#008000", "strokeWidth": 2},
        "encoding": {"x": {"field": "n", "type": "quantitative", "scale": {"domain": [-1.45, 52.45], "nice": false}, "axis": {"values": [0,20,40], "title": "Cycle number", "labelFontSize": 14, "titlePadding": 5}},
                     "y": {"field": "e", "type": "quantitative", "scale": {"domain": [-2, 282], "nice": false}, "axis": {"orient": "left", "values": [0,100,200], "title": "Energy dissipation (J)", "labelFontSize": 14, "titlePadding": 6}},
                     "strokeDash": {"datum": "Energy dissipation", "type": "nominal", "scale": {"domain": ["Maximum stress","Energy dissipation"], "range": [[1,0],[8,4]]},
                       "legend": {"orient": "top-right", "offset": 4, "title": null, "symbolType": "stroke", "symbolStrokeColor": "#008000", "symbolStrokeWidth": 2, "symbolSize": 360, "labelFontSize": 9.5, "labelOffset": 8, "rowPadding": 2, "padding": 4, "strokeColor": "#cccccc", "cornerRadius": 3, "fillColor": "white"}}}},
       {"data": {"name": "ch"}, "mark": {"type": "line", "color": "#008000", "strokeWidth": 2},
        "encoding": {"x": {"field": "n", "type": "quantitative"},
                     "y": {"field": "m", "type": "quantitative", "scale": {"domain": [2.99, 4.09], "nice": false}, "axis": {"orient": "right", "values": [3.5,4.0], "format": ".1f", "title": null, "labelFontSize": 14}},
                     "strokeDash": {"datum": "Maximum stress", "type": "nominal"}}},
       {"data": {"values": [{"l": "H"}]},
        "encoding": {"x": {"datum": -1.45}, "y": {"datum": 1, "scale": {"domain": [0,1], "nice": false}, "axis": null}},
        "layer": [
         {"mark": {"type": "point", "shape": "square", "filled": true, "color": "black", "opacity": 1, "size": 700, "xOffset": 13.5, "yOffset": -17}},
         {"mark": {"type": "text", "color": "white", "fontSize": 21, "font": "DejaVu Sans", "xOffset": 13.5, "yOffset": -16, "align": "center", "baseline": "middle"}, "encoding": {"text": {"field": "l"}}}
        ]}
      ],
      "resolve": {"scale": {"y": "independent"}}},
     {"width": 153, "height": 111, "layer": [
       {"data": {"name": "ci"}, "mark": {"type": "line", "color": "#ff0000", "strokeWidth": 2},
        "encoding": {"x": {"field": "n", "type": "quantitative", "scale": {"domain": [-1.45, 52.45], "nice": false}, "axis": {"values": [0,20,40], "title": "Cycle number", "labelFontSize": 14, "titlePadding": 5}},
                     "y": {"field": "e", "type": "quantitative", "scale": {"domain": [-4, 241], "nice": false}, "axis": {"orient": "left", "values": [0,100,200], "labels": false, "title": null}},
                     "strokeDash": {"datum": "Energy dissipation", "type": "nominal", "scale": {"domain": ["Maximum stress","Energy dissipation"], "range": [[1,0],[8,4]]},
                       "legend": {"orient": "top-right", "offset": 4, "title": null, "symbolType": "stroke", "symbolStrokeColor": "#ff0000", "symbolStrokeWidth": 2, "symbolSize": 360, "labelFontSize": 9.5, "labelOffset": 8, "rowPadding": 2, "padding": 4, "strokeColor": "#cccccc", "cornerRadius": 3, "fillColor": "white"}}}},
       {"data": {"name": "ci"}, "mark": {"type": "line", "color": "#ff0000", "strokeWidth": 2},
        "encoding": {"x": {"field": "n", "type": "quantitative"},
                     "y": {"field": "m", "type": "quantitative", "scale": {"domain": [4.02, 5.21], "nice": false}, "axis": {"orient": "right", "values": [4.5,5.0], "format": ".1f", "title": null, "labelFontSize": 14}},
                     "strokeDash": {"datum": "Maximum stress", "type": "nominal"}}},
       {"data": {"values": [{"l": "I"}]},
        "encoding": {"x": {"datum": -1.45}, "y": {"datum": 1, "scale": {"domain": [0,1], "nice": false}, "axis": null}},
        "layer": [
         {"mark": {"type": "point", "shape": "square", "filled": true, "color": "black", "opacity": 1, "size": 700, "xOffset": 13.5, "yOffset": -17}},
         {"mark": {"type": "text", "color": "white", "fontSize": 21, "font": "DejaVu Sans", "xOffset": 13.5, "yOffset": -16, "align": "center", "baseline": "middle"}, "encoding": {"text": {"field": "l"}}}
        ]}
      ],
      "resolve": {"scale": {"y": "independent"}}},
     {"width": 153, "height": 111, "layer": [
       {"data": {"name": "cj"}, "mark": {"type": "line", "color": "#0000ff", "strokeWidth": 2},
        "encoding": {"x": {"field": "n", "type": "quantitative", "scale": {"domain": [-1.45, 52.45], "nice": false}, "axis": {"values": [0,20,40], "title": "Cycle number", "labelFontSize": 14, "titlePadding": 5}},
                     "y": {"field": "e", "type": "quantitative", "scale": {"domain": [-1.5, 160], "nice": false}, "axis": {"orient": "left", "values": [0,100], "labels": false, "title": null}},
                     "strokeDash": {"datum": "Energy dissipation", "type": "nominal", "scale": {"domain": ["Maximum stress","Energy dissipation"], "range": [[1,0],[8,4]]},
                       "legend": {"orient": "top-right", "offset": 4, "title": null, "symbolType": "stroke", "symbolStrokeColor": "#0000ff", "symbolStrokeWidth": 2, "symbolSize": 360, "labelFontSize": 9.5, "labelOffset": 8, "rowPadding": 2, "padding": 4, "strokeColor": "#cccccc", "cornerRadius": 3, "fillColor": "white"}}}},
       {"data": {"name": "cj"}, "mark": {"type": "line", "color": "#0000ff", "strokeWidth": 2},
        "encoding": {"x": {"field": "n", "type": "quantitative"},
                     "y": {"field": "m", "type": "quantitative", "scale": {"domain": [2.93, 3.99], "nice": false}, "axis": {"orient": "right", "values": [3.0,3.5], "format": ".1f", "title": "Max stress (MPa)", "labelFontSize": 14, "titlePadding": 2}},
                     "strokeDash": {"datum": "Maximum stress", "type": "nominal"}}},
       {"data": {"values": [{"l": "J"}]},
        "encoding": {"x": {"datum": -1.45}, "y": {"datum": 1, "scale": {"domain": [0,1], "nice": false}, "axis": null}},
        "layer": [
         {"mark": {"type": "point", "shape": "square", "filled": true, "color": "black", "opacity": 1, "size": 700, "xOffset": 13.5, "yOffset": -17}},
         {"mark": {"type": "text", "color": "white", "fontSize": 21, "font": "DejaVu Sans", "xOffset": 13.5, "yOffset": -16, "align": "center", "baseline": "middle"}, "encoding": {"text": {"field": "l"}}}
        ]}
      ],
      "resolve": {"scale": {"y": "independent"}}}
    ],
    "spacing": 57, "bounds": "flush",
    "resolve": {"scale": {"x": "independent", "y": "independent", "strokeDash": "independent"}, "legend": {"strokeDash": "independent"}}
   }
  ],
  "spacing": 25, "bounds": "flush",
  "resolve": {"scale": {"x": "independent", "y": "independent", "strokeDash": "independent"}, "legend": {"strokeDash": "independent"}}
 }
]
}
